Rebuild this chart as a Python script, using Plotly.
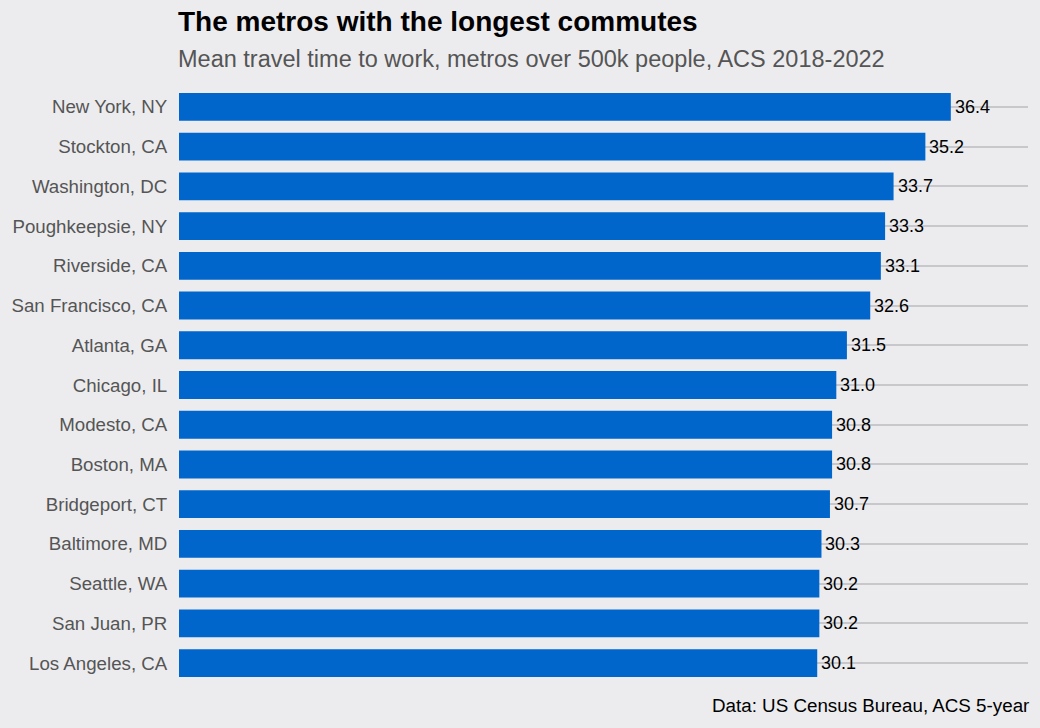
import plotly.graph_objects as go

metros = ["New York, NY", "Stockton, CA", "Washington, DC", "Poughkeepsie, NY",
          "Riverside, CA", "San Francisco, CA", "Atlanta, GA", "Chicago, IL",
          "Modesto, CA", "Boston, MA", "Bridgeport, CT", "Baltimore, MD",
          "Seattle, WA", "San Juan, PR", "Los Angeles, CA"]
commute = [36.4, 35.2, 33.7, 33.3, 33.1, 32.6, 31.5, 31.0, 30.8, 30.8,
           30.7, 30.3, 30.2, 30.2, 30.1]

title = "The metros with the longest commutes"
subtitle = "Mean travel time to work, metros over 500k people, ACS 2018-2022"
caption = "Data: US Census Bureau, ACS 5-year"

BG = "#ECECEF"
BAR = "#0066CC"
FONT = "Liberation Sans, Arial, sans-serif"

# plot bottom-to-top so first metro sits at top
cats = metros[::-1]
vals = commute[::-1]

fig = go.Figure()
fig.add_trace(go.Bar(
    x=vals, y=cats, orientation="h",
    marker=dict(color=BAR, line=dict(width=0)),
    width=0.7, hoverinfo="skip",
))

annotations = []
for c, v in zip(cats, vals):
    annotations.append(dict(
        x=v, y=c, xref="x", yref="y", text=f"{v:.1f}", showarrow=False,
        xanchor="left", yanchor="middle", xshift=2,
        font=dict(family=FONT, size=18, color="#000000"),
    ))

H_PLOT = 604.0
def py(pix):
    return (687 - pix) / H_PLOT

annotations.append(dict(
    x=0, y=py(22), xref="paper", yref="paper", text=f"<b>{title}</b>",
    showarrow=False, xanchor="left", yanchor="middle", xshift=-3,
    font=dict(family=FONT, size=28, color="#000000"),
))
annotations.append(dict(
    x=0, y=py(59), xref="paper", yref="paper", text=subtitle,
    showarrow=False, xanchor="left", yanchor="middle", xshift=-3,
    font=dict(family=FONT, size=23.5, color="#555555"),
))
annotations.append(dict(
    x=1, y=py(705), xref="paper", yref="paper", text=caption,
    showarrow=False, xanchor="right", yanchor="middle", xshift=3,
    font=dict(family=FONT, size=18.8, color="#000000"),
))

fig.update_layout(
    width=1040, height=728,
    margin=dict(l=179, r=12, t=83, b=41),
    paper_bgcolor=BG, plot_bgcolor=BG,
    showlegend=False,
    bargap=0.3,
    annotations=annotations,
    xaxis=dict(range=[0, 36.4 * 1.1], showgrid=False, zeroline=False,
               showticklabels=False, ticks="", fixedrange=True),
    yaxis=dict(categoryorder="array", categoryarray=cats,
               range=[-0.6, len(cats) - 0.4],
               showgrid=True, gridcolor="#C8C8CC", gridwidth=1.5,
               zeroline=False, ticks="outside", ticklen=7, tickcolor=BG,
               tickfont=dict(family=FONT, size=18.7, color="#555555")),
)

fig.write_html("out.html")
